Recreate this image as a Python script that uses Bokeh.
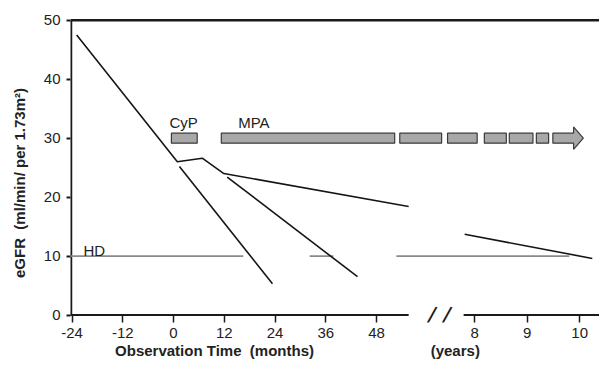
import numpy as np
from bokeh.plotting import figure
from bokeh.models import Range1d, FixedTicker, Label
from bokeh.embed import file_html
from bokeh.resources import INLINE

FONT = "Liberation Sans"
TXT = "#222222"
NB = "\u00a0"

# ---- axis mapping: months on the left, compressed years on the right ----
MONTH_TICKS = [-24, -12, 0, 12, 24, 36, 48]
YEAR_TICKS = [8, 9, 10]
YEAR8_POS = 71.2        # axis position (month units) of year 8
YEAR_STEP = 12.42       # axis units per year after the break


def yr(y):
    return YEAR8_POS + (np.asarray(y, dtype=float) - 8) * YEAR_STEP


# ---- data ----
# observed eGFR course before / after treatment start (months)
course_x = [-22.9, 0.9, 6.8, 11.9, 55.6]
course_y = [47.5, 26.0, 26.6, 24.0, 18.4]
# projected decline without treatment
proj1_x = [1.4, 23.4]
proj1_y = [25.2, 5.3]
proj2_x = [12.7, 43.5]
proj2_y = [23.4, 6.5]
# late course (years)
late_years = [7.81, 10.24]
late_y = [13.7, 9.6]
# haemodialysis threshold segments (axis units)
HD_LEVEL = 10
hd_start = [-24.4, 32.2, 52.7]
hd_end = [16.5, 37.8, 93.6]
# treatment bars (axis units)
cyp_start, cyp_end = [-0.5], [5.6]
mpa_start = [11.3, 53.5, 64.8, 73.5, 79.4, 85.8]
mpa_end = [52.3, 63.4, 71.8, 78.7, 85.0, 88.7]
mpa_arrow = [89.7, 94.6, 96.9]   # start, body end, tip
BAR_Y = 30
BAR_H = 1.7
HEAD_H = 3.8
# axis pieces (axis units)
Y_TICKS = [0, 10, 20, 30, 40, 50]
axis_left = [-25.0, 55.6]
axis_right = [68.6, 101.0]
break_marks = [61.1, 64.7]

X0, X1 = -24.36, 100.73
Y0, Y1 = -1.27, 50.3
p = figure(width=599, height=368, output_backend="svg", toolbar_location=None,
           x_range=Range1d(X0, X1), y_range=Range1d(Y0, Y1),
           min_border_left=70, min_border_right=0, min_border_top=18,
           min_border_bottom=46)
p.outline_line_color = None
p.grid.visible = False
p.background_fill_color = "white"
p.border_fill_color = "white"

# y axis (line drawn separately so that it stops at 0)
ya = p.yaxis[0]
ya.ticker = FixedTicker(ticks=Y_TICKS)
ya.axis_line_color = None
ya.major_tick_line_color = "#1a1a1a"
ya.major_tick_line_width = 2
ya.major_tick_out = 4
ya.major_tick_in = 0
ya.minor_tick_line_color = None
ya.major_label_standoff = 6
ya.major_label_text_font = FONT
ya.major_label_text_font_size = "15px"
ya.major_label_text_color = TXT
ya.axis_label = "eGFR" + NB * 2 + "(ml/min/ per 1.73m²)" + NB * 6
ya.axis_label_text_font = FONT
ya.axis_label_text_font_size = "15px"
ya.axis_label_text_font_style = "bold"
ya.axis_label_text_color = TXT
ya.axis_label_standoff = 13

# x axis (line drawn separately because it is broken)
xa = p.xaxis[0]
year_pos = [float(v) for v in yr(YEAR_TICKS)]
xa.ticker = FixedTicker(ticks=MONTH_TICKS + year_pos)
overrides = {float(t): str(t) for t in MONTH_TICKS}
for pos, y in zip(year_pos, YEAR_TICKS):
    overrides[pos] = str(y)
xa.major_label_overrides = overrides
xa.axis_line_color = None
xa.major_tick_line_color = "#1a1a1a"
xa.major_tick_line_width = 1.5
xa.major_tick_out = 0
xa.major_tick_in = 7
xa.minor_tick_line_color = None
xa.major_label_standoff = 5
xa.major_label_text_font = FONT
xa.major_label_text_font_size = "15px"
xa.major_label_text_color = TXT
xa.axis_label = "Observation Time" + NB * 2 + "(months)" + NB * 28 + "(years)" + NB * 18
xa.axis_label_text_font = FONT
xa.axis_label_text_font_size = "15px"
xa.axis_label_text_font_style = "bold"
xa.axis_label_text_color = TXT
xa.axis_label_standoff = 1

# frame lines: top, left axis line, broken x axis line
p.segment(x0=[X0], y0=[Y_TICKS[-1]], x1=[X1], y1=[Y_TICKS[-1]], line_color="#1a1a1a", line_width=2.5)
p.segment(x0=[X0], y0=[Y_TICKS[0]], x1=[X0], y1=[Y_TICKS[-1]], line_color="#1a1a1a", line_width=3.5)
p.segment(x0=[axis_left[0], axis_right[0]], y0=[0, 0], x1=[axis_left[1], axis_right[1]], y1=[0, 0],
          line_color="#1a1a1a", line_width=2)

# HD lines
p.segment(x0=hd_start, y0=[HD_LEVEL] * 3, x1=hd_end, y1=[HD_LEVEL] * 3,
          line_color="#8a8a8a", line_width=1.8)

# data lines
LC = "#151515"
p.line(course_x, course_y, line_color=LC, line_width=1.6)
p.line(proj1_x, proj1_y, line_color=LC, line_width=1.6)
p.line(proj2_x, proj2_y, line_color=LC, line_width=1.6)
p.line(list(yr(late_years)), late_y, line_color=LC, line_width=1.6)

# treatment bars
BAR_FILL = "#a8a8a8"
BAR_LINE = "#3a3a3a"
p.quad(left=cyp_start + mpa_start, right=cyp_end + mpa_end,
       bottom=BAR_Y - BAR_H / 2, top=BAR_Y + BAR_H / 2,
       fill_color=BAR_FILL, line_color=BAR_LINE, line_width=1.2)
s, be, tip = mpa_arrow
p.patch([s, be, be, tip, be, be, s],
        [BAR_Y - BAR_H / 2, BAR_Y - BAR_H / 2, BAR_Y - HEAD_H / 2, BAR_Y,
         BAR_Y + HEAD_H / 2, BAR_Y + BAR_H / 2, BAR_Y + BAR_H / 2],
        fill_color=BAR_FILL, line_color=BAR_LINE, line_width=1.2)


def lab(x, y, text, size="15px", style="normal", angle=0, align="left",
        baseline="alphabetic", color=TXT):
    p.add_layout(Label(x=x, y=y, text=text, text_font=FONT, text_font_size=size,
                       text_font_style=style, text_color=color, angle=angle,
                       text_align=align, text_baseline=baseline))


# axis break marks
for bx in break_marks:
    lab(bx, 0.0, "/", size="24px", angle=-0.243, align="center", baseline="middle",
        color="#1a1a1a")

lab(-0.95, 32.65, "CyP")
lab(15.3, 32.65, "MPA")
lab(-21.3, 10.9, "HD")

open("out.html", "w").write(file_html(p, INLINE))
